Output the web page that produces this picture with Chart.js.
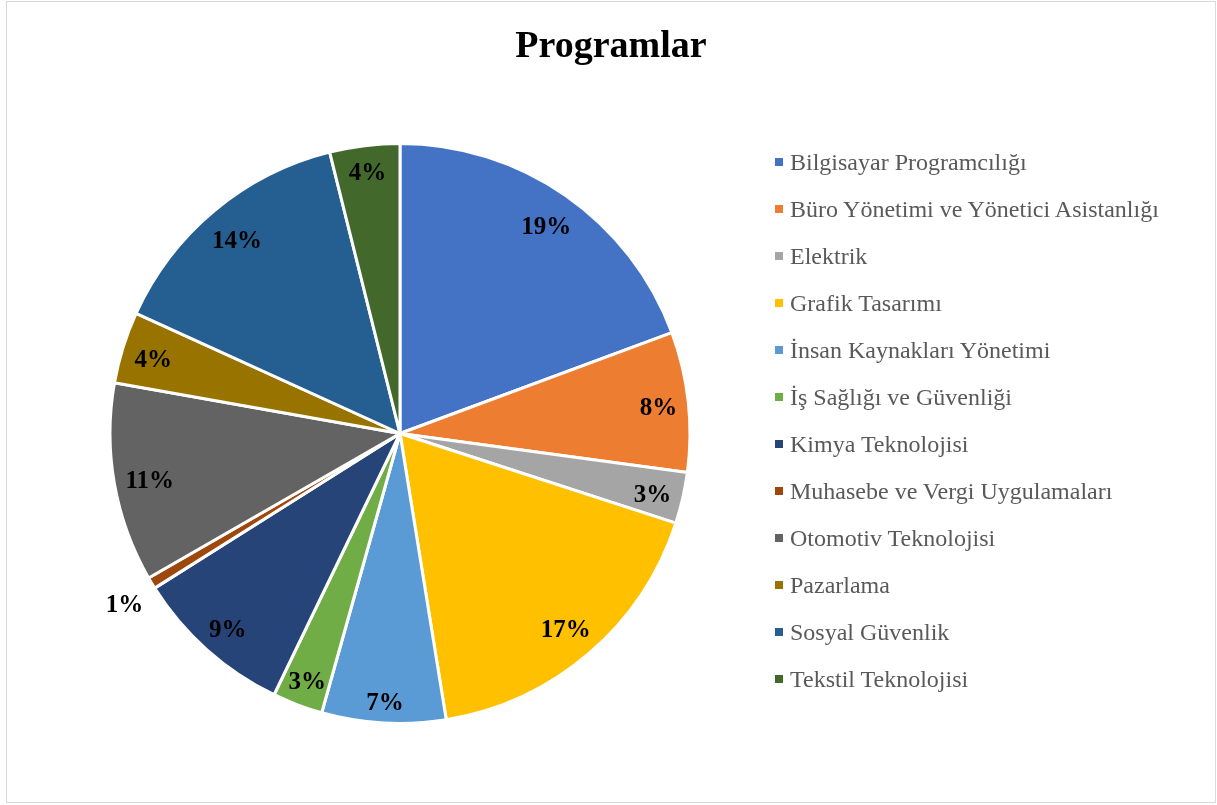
<!DOCTYPE html>
<html>
<head>
<meta charset="utf-8">
<script src="https://cdn.jsdelivr.net/npm/chart.js@4.4.1/dist/chart.umd.min.js"></script>
<style>
  html, body { margin:0; padding:0; background:#fff; }
  #wrap { position:relative; width:1217px; height:805px; overflow:hidden; }
  #frame { position:absolute; left:6px; top:1px; width:1208px; height:800px; border:1.5px solid #d9d9d9; }
  #title { position:absolute; left:6px; width:1210px; top:25px; text-align:center;
    font:bold 38px/1 "Liberation Serif", "Times New Roman", serif; color:#000; }
  #chart { position:absolute; left:0; top:0; }
  #legend { position:absolute; left:775px; top:138.5px; font:24px "Liberation Serif", "Times New Roman", serif; color:#595959; }
  #legend .row { height:47px; display:flex; align-items:center; white-space:nowrap; }
  #legend .box { width:8px; height:8px; margin-right:7px; flex:none; }
</style>
</head>
<body>
<div id="wrap">
  <div id="frame"></div>
  <canvas id="chart" width="1217" height="805"></canvas>
  <div id="title">Programlar</div>
  <div id="legend"></div>
</div>
<script>
/* ==== Data ==== */
const programs = [
  "Bilgisayar Programcılığı",
  "Büro Yönetimi ve Yönetici Asistanlığı",
  "Elektrik",
  "Grafik Tasarımı",
  "İnsan Kaynakları Yönetimi",
  "İş Sağlığı ve Güvenliği",
  "Kimya Teknolojisi",
  "Muhasebe ve Vergi Uygulamaları",
  "Otomotiv Teknolojisi",
  "Pazarlama",
  "Sosyal Güvenlik",
  "Tekstil Teknolojisi"
];
const shares = [19.35, 7.8, 2.85, 17.45, 6.9, 2.8, 8.9, 0.65, 11.1, 4.0, 14.3, 3.9];
const colors = ["#4472C4", "#ED7D31", "#A5A5A5", "#FFC000", "#5B9BD5", "#70AD47",
                "#264478", "#9E480E", "#636363", "#997300", "#255E91", "#43682B"];

/* ==== Legend ==== */
const legendEl = document.getElementById('legend');
programs.forEach((p, i) => {
  const row = document.createElement('div'); row.className = 'row';
  row.innerHTML = `<span class="box" style="background:${colors[i]}"></span><span>${p}</span>`;
  legendEl.appendChild(row);
});

/* ==== Percent labels (box pushed out until its outer corner sits near the rim) ==== */
const pctLabels = {
  id: 'pctLabels',
  afterDatasetsDraw(chart){
    const ctx = chart.ctx;
    const data = chart.data.datasets[0].data;
    const total = data.reduce((a, b) => a + b, 0);
    ctx.save();
    ctx.font = 'bold 25px "Liberation Serif", "Times New Roman", serif';
    ctx.fillStyle = '#000';
    ctx.textAlign = 'center';
    ctx.textBaseline = 'middle';
    chart.getDatasetMeta(0).data.forEach((arc, i) => {
      const pct = data[i] / total * 100;
      const txt = Math.round(pct) + '%';
      const mid = (arc.startAngle + arc.endAngle) / 2;
      const c = Math.cos(mid), s = Math.sin(mid);
      const hw = ctx.measureText(txt).width / 2, hh = 12;
      let r;
      if (pct < 2) r = arc.outerRadius + 35;
      else r = arc.outerRadius - 10 - (hw * Math.abs(c) + hh * Math.abs(s));
      ctx.fillText(txt, arc.x + c * r + (pct < 2 ? 3 : 0), arc.y + s * r + 4);
    });
    ctx.restore();
  }
};

new Chart(document.getElementById('chart'), {
  type: 'pie',
  data: { labels: programs, datasets: [{ data: shares, backgroundColor: colors, borderColor: '#fff', borderWidth: 3 }] },
  options: {
    responsive: false,
    animation: false,
    layout: { padding: { left: 108, right: 525, top: 142, bottom: 80 } },
    plugins: { legend: { display: false }, title: { display: false }, tooltip: { enabled: false } }
  },
  plugins: [pctLabels]
});
</script>
</body>
</html>
